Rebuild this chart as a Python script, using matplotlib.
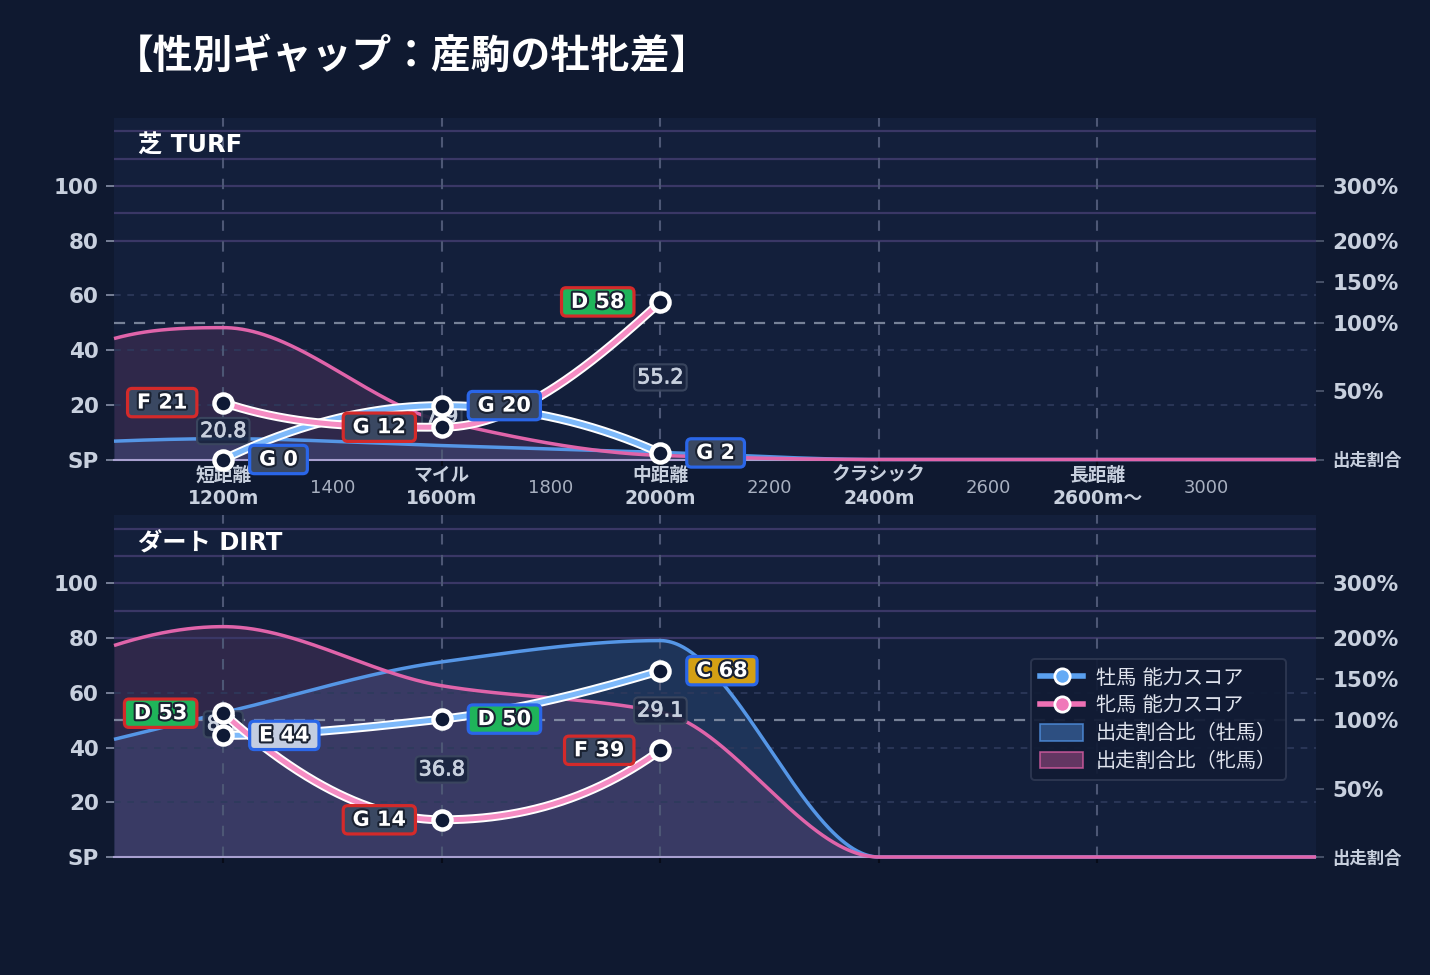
import numpy as np
import matplotlib
matplotlib.use('Agg')
import matplotlib.pyplot as plt
import matplotlib.patheffects as pe
from matplotlib.lines import Line2D
from matplotlib.patches import Patch

plt.rcParams['font.family'] = ['DejaVu Sans', 'Noto Sans CJK JP']

# ---------------- data ----------------
TITLE = '【性別ギャップ：産駒の牡牝差】'
PANEL_TITLES = ['芝 TURF', 'ダート DIRT']

DIST_POS = [1200, 1600, 2000, 2400, 2800]
DIST_LABELS = ['短距離\n1200m', 'マイル\n1600m', '中距離\n2000m', 'クラシック\n2400m', '長距離\n2600m～']
MINOR_POS = [1400, 1800, 2200, 2600, 3000]

LEFT_TICKS = [0, 20, 40, 60, 80, 100]
LEFT_LABELS = ['SP', '20', '40', '60', '80', '100']
RIGHT_PCT = [0, 50, 100, 150, 200, 300]
RIGHT_LABELS = ['出走割合', '50%', '100%', '150%', '200%', '300%']

SCORE_X = [1200, 1600, 2000]
turf_male_score = [0.0, 19.7, 2.4]
turf_male_grade = ['G', 'G', 'G']
turf_female_score = [20.8, 11.8, 57.6]
turf_female_grade = ['F', 'G', 'D']
dirt_male_score = [44.45, 50.4, 68.1]
dirt_male_grade = ['E', 'D', 'C']
dirt_female_score = [52.55, 13.6, 39.0]
dirt_female_grade = ['D', 'G', 'F']

SHARE_X = [1000, 1200, 1600, 2000, 2400, 2800, 3200]
turf_male_share = [13.4, 15.2, 10.2, 5.2, 0, 0, 0]
turf_female_share = [88.4, 96.4, 28.2, 3.0, 0, 0, 0]
dirt_male_share = [86, 109, 171, 197, 0, 0, 0]
dirt_female_share = [191, 221, 142, 110, 0, 0, 0]

LEGEND_LABELS = ['牡馬 能力スコア', '牝馬 能力スコア', '出走割合比（牡馬）', '出走割合比（牝馬）']

# ---------------- style ----------------
FIG_BG = '#0f1930'
AX_BG = '#131f3b'
TXT = '#c8d0de'
BLUE_AREA = '#5596e6'
PINK_AREA = '#e064aa'
BLUE_SCORE = '#7db9fa'
PINK_SCORE = '#f58cc3'
MALE_EDGE = '#2a66e8'
FEMALE_EDGE = '#d42a2a'
GRADE_FILL = {'C': '#d4a014', 'D': '#1fb45a', 'E': '#c3cde1', 'F': '#3a4862', 'G': '#3a4862'}
SP4 = '\u2005'


def pchip(x, y, xs):
    x = np.asarray(x, float)
    y = np.asarray(y, float)
    h = np.diff(x)
    d = np.diff(y) / h
    n = len(x)
    m = np.zeros(n)
    for k in range(1, n - 1):
        if d[k - 1] * d[k] <= 0:
            m[k] = 0.0
        else:
            w1 = 2 * h[k] + h[k - 1]
            w2 = h[k] + 2 * h[k - 1]
            m[k] = (w1 + w2) / (w1 / d[k - 1] + w2 / d[k])

    def end(h0, h1, d0, d1):
        mm = ((2 * h0 + h1) * d0 - h0 * d1) / (h0 + h1)
        if np.sign(mm) != np.sign(d0):
            return 0.0
        if np.sign(d0) != np.sign(d1) and abs(mm) > abs(3 * d0):
            return 3 * d0
        return mm

    if n > 2:
        m[0] = end(h[0], h[1], d[0], d[1])
        m[-1] = end(h[-1], h[-2], d[-1], d[-2])
    else:
        m[:] = d[0]
    xs = np.asarray(xs, float)
    idx = np.clip(np.searchsorted(x, xs) - 1, 0, n - 2)
    hh = h[idx]
    t = (xs - x[idx]) / hh
    h00 = 2 * t**3 - 3 * t**2 + 1
    h10 = t**3 - 2 * t**2 + t
    h01 = -2 * t**3 + 3 * t**2
    h11 = t**3 - t**2
    return h00 * y[idx] + h10 * hh * m[idx] + h01 * y[idx + 1] + h11 * hh * m[idx + 1]


def pct_to_units(p):
    return np.interp(p, [0, 100, 200, 300], [0, 50, 80, 100])


def grade_label(ax, x, y, grade, side, edge):
    txt = f'{SP4}{grade} {y:.0f}{SP4}'
    off = -22 if side == 'left' else 22
    ax.annotate(txt, (x, y), xytext=(off, 0), textcoords='offset points',
                ha='right' if side == 'left' else 'left', va='center',
                fontsize=15, fontweight='bold', color='white', zorder=8,
                bbox=dict(boxstyle='round,pad=0.2,rounding_size=0.22',
                          fc=GRADE_FILL[grade], ec=edge, lw=2.3),
                path_effects=[pe.withStroke(linewidth=3, foreground='#1a2232')])


def draw_panel(ax, title, m_score, m_grade, f_score, f_grade, m_share, f_share, xlabels):
    ax.set_facecolor(AX_BG)
    ax.set_xlim(1000, 3200)
    ax.set_ylim(0, 125)

    xs = np.linspace(1000, 3200, 900)
    mu = np.clip(pchip(SHARE_X, pct_to_units(m_share), xs), 0, None)
    fu = np.clip(pchip(SHARE_X, pct_to_units(f_share), xs), 0, None)
    ax.fill_between(xs, 0, mu, color=BLUE_AREA, alpha=0.18, lw=0, zorder=1)
    ax.fill_between(xs, 0, fu, color=PINK_AREA, alpha=0.14, lw=0, zorder=1.1)
    ax.plot(xs, mu, color=BLUE_AREA, lw=2.5, zorder=2.6, clip_on=False, solid_capstyle='butt')
    ax.plot(xs, fu, color=PINK_AREA, lw=2.5, zorder=2.7, clip_on=False, solid_capstyle='butt')

    # grid
    for v in [80, 90, 100, 110, 120]:
        ax.axhline(v, color='#3a3766', lw=1.6, zorder=1.6)
    for v in [20, 40, 60]:
        ax.axhline(v, color='#2e3a5c', lw=1.2, ls=(0, (4, 4)), zorder=1.6)
    ax.axhline(50, color='#9aa4b8', alpha=0.75, lw=1.6, ls=(0, (5, 4)), zorder=1.7)
    for p in DIST_POS:
        ax.axvline(p, color='#4d5775', lw=1.5, ls=(0, (5, 5)), zorder=1.7)

    ax.text(0.02, 114.5, title, transform=ax.get_yaxis_transform(), ha='left', va='center',
            fontsize=17.5, fontweight='bold', color='white', zorder=9)

    # gap labels
    for x, a, b in zip(SCORE_X, m_score, f_score):
        ax.text(x, (a + b) / 2, f'{abs(a - b):.1f}', ha='center', va='center',
                fontsize=15, color=TXT, zorder=3,
                path_effects=[pe.withStroke(linewidth=0.6, foreground=TXT)],
                bbox=dict(boxstyle='round,pad=0.15,rounding_size=0.22',
                          fc='#1a2540', ec='#3c4860', lw=1.5, alpha=0.92))

    # score lines
    sx = np.linspace(1200, 2000, 400)
    for sc, col, z in [(m_score, BLUE_SCORE, 4), (f_score, PINK_SCORE, 4.2)]:
        sy = pchip(SCORE_X, sc, sx)
        ax.plot(sx, sy, color='white', lw=6.4, zorder=z, solid_capstyle='round')
        ax.plot(sx, sy, color=col, lw=3.6, zorder=z + 0.05, solid_capstyle='round')
        ax.plot(SCORE_X, sc, ls='none', marker='o', ms=13, mfc='#0f1a35', mec='white',
                mew=3.2, zorder=5, clip_on=False)

    for x, v, g in zip(SCORE_X, m_score, m_grade):
        grade_label(ax, x, v, g, 'right', MALE_EDGE)
    for x, v, g in zip(SCORE_X, f_score, f_grade):
        grade_label(ax, x, v, g, 'left', FEMALE_EDGE)

    # axes
    for s in ['top', 'left', 'right']:
        ax.spines[s].set_visible(False)
    ax.spines['bottom'].set_color('#a8a0d0')
    ax.spines['bottom'].set_linewidth(1.5)
    ax.spines['bottom'].set_zorder(2.5)

    ax.set_yticks(LEFT_TICKS)
    ax.set_yticklabels(LEFT_LABELS, fontweight='bold')
    ax.tick_params(axis='y', which='both', length=6, width=1.2, color='#8890a8',
                   labelcolor=TXT, labelsize=15.5, pad=5)

    ax.set_xticks(DIST_POS)
    ax.set_xticks(MINOR_POS, minor=True)
    if xlabels:
        ax.set_xticklabels(DIST_LABELS, fontweight='bold', linespacing=1.3)
        ax.set_xticklabels([str(v) for v in MINOR_POS], minor=True)
    else:
        ax.set_xticklabels([])
        ax.set_xticklabels([], minor=True)
    ax.tick_params(axis='x', which='major', direction='out', length=4, width=1.5,
                   color='#070b18', labelcolor=TXT, labelsize=13.5, pad=0.5)
    ax.tick_params(axis='x', which='minor', length=0, labelcolor='#a8b0c0',
                   labelsize=13, pad=14)

    ax2 = ax.twinx()
    ax2.set_ylim(0, 125)
    ax2.set_yticks(pct_to_units(RIGHT_PCT))
    ax2.set_yticklabels(RIGHT_LABELS, fontweight='bold')
    ax2.tick_params(axis='y', length=6, width=1.2, color='#505a72', labelcolor=TXT,
                    labelsize=15.5, pad=6)
    ax2.get_yticklabels()[0].set_fontsize(12.5)
    for s in ax2.spines.values():
        s.set_visible(False)
    return ax2


fig = plt.figure(figsize=(14.3, 9.75), dpi=100, facecolor=FIG_BG)
W, H = 1430, 975
ax_top = fig.add_axes([114 / W, 1 - 459.5 / H, 1202 / W, 342 / H])
ax_bot = fig.add_axes([114 / W, 1 - 857 / H, 1202 / W, 342 / H])

draw_panel(ax_top, PANEL_TITLES[0], turf_male_score, turf_male_grade,
           turf_female_score, turf_female_grade, turf_male_share, turf_female_share, True)
ax2b = draw_panel(ax_bot, PANEL_TITLES[1], dirt_male_score, dirt_male_grade,
                  dirt_female_score, dirt_female_grade, dirt_male_share, dirt_female_share, False)

fig.text(114 / W, 1 - 56 / H, TITLE, fontsize=28.6, fontweight='bold', color='white',
         va='center', ha='left', family=['Noto Sans CJK JP', 'DejaVu Sans'])

handles = [
    Line2D([], [], color='#5aa0f0', lw=4, marker='o', ms=11, mfc='#64aaf5', mec='white', mew=2),
    Line2D([], [], color='#ee70b4', lw=4, marker='o', ms=11, mfc='#f078b9', mec='white', mew=2),
    Patch(fc=(80 / 255, 144 / 255, 224 / 255, 0.45), ec=(80 / 255, 144 / 255, 224 / 255, 0.8), lw=1.2),
    Patch(fc=(224 / 255, 96 / 255, 168 / 255, 0.4), ec=(224 / 255, 96 / 255, 168 / 255, 0.75), lw=1.2),
]
leg = ax2b.legend(handles, LEGEND_LABELS, loc='upper left', bbox_to_anchor=(0.763, 0.578),
                  borderaxespad=0, fontsize=14.5, frameon=True, fancybox=True,
                  facecolor='#111b34', edgecolor='#2e3852', framealpha=0.92,
                  handlelength=2.15, handleheight=0.9, handletextpad=0.6, labelspacing=0.42,
                  borderpad=0.45, labelcolor='#e0e4ee')
leg.get_frame().set_linewidth(1.4)
leg.set_zorder(10)

fig.savefig('out.png', dpi=100, facecolor=FIG_BG)
